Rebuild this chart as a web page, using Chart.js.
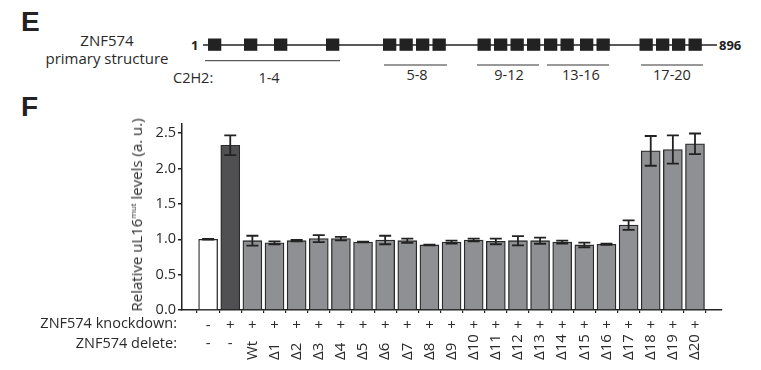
<!DOCTYPE html>
<html>
<head>
<meta charset="utf-8">
<script src="https://cdn.jsdelivr.net/npm/chart.js@4"></script>
<style>
  body { margin: 0; background: #fff; }
  #wrap { position: relative; width: 761px; height: 370px; overflow: hidden; font-family: 'Open Sans', sans-serif; color: #222; }
  #struct { position: absolute; left: 0; top: 0; }
  #chart { position: absolute; left: 0; top: 0; }
  .panel { position: absolute; font-family: 'Liberation Sans', Arial, sans-serif; font-weight: bold; font-size: 28px; color: #222; }
  .ytitle { position: absolute; left: 136px; top: 215px; transform: translate(-50%, -50%) rotate(-90deg); white-space: nowrap; font-size: 15px; color: #2a2a2a; }
  .ytitle sup { font-size: 8px; vertical-align: 6px; }
  .rowlbl { position: absolute; right: 584px; font-size: 14.5px; color: #2a2a2a; white-space: nowrap; }
</style>
</head>
<body>
<div id="wrap">
  <svg id="struct" width="761" height="100" xmlns="http://www.w3.org/2000/svg" font-family="Open Sans, sans-serif" fill="#222">
    <text x="107" y="46" font-size="15" text-anchor="middle" fill="#2a2a2a">ZNF574</text>
    <text x="107" y="64" font-size="15" text-anchor="middle" fill="#2a2a2a">primary structure</text>
    <text x="191" y="49.5" font-size="13" font-weight="bold">1</text>
    <line x1="203" y1="45" x2="717" y2="45" stroke="#222" stroke-width="1.5"/>
    <g id="boxes"></g>
    <text x="719" y="49.5" font-size="13" font-weight="bold">896</text>
    <line x1="205" y1="60.7" x2="340" y2="60.7" stroke="#333" stroke-width="1"/>
    <line x1="384" y1="65" x2="447" y2="65" stroke="#333" stroke-width="1"/>
    <line x1="477" y1="65" x2="539" y2="65" stroke="#333" stroke-width="1"/>
    <line x1="547" y1="65" x2="609" y2="65" stroke="#333" stroke-width="1"/>
    <line x1="641" y1="65" x2="703" y2="65" stroke="#333" stroke-width="1"/>
    <text x="173" y="83" font-size="14.5" fill="#2a2a2a">C2H2:</text>
    <text x="269" y="83" font-size="14.5" text-anchor="middle" fill="#2a2a2a">1-4</text>
    <text x="417" y="80" font-size="14.5" text-anchor="middle" fill="#2a2a2a">5-8</text>
    <text x="509" y="80" font-size="14.5" text-anchor="middle" fill="#2a2a2a">9-12</text>
    <text x="581" y="80" font-size="14.5" text-anchor="middle" fill="#2a2a2a">13-16</text>
    <text x="672" y="80" font-size="14.5" text-anchor="middle" fill="#2a2a2a">17-20</text>
  </svg>
  <div class="panel" style="left:21px; top:6px;">E</div>
  <div class="panel" style="left:21px; top:91px;">F</div>
  <canvas id="chart" width="761" height="370"></canvas>
  <div class="ytitle">Relative uL16<sup>mut</sup> levels (a. u.)</div>
  <div class="rowlbl" style="top:313px;">ZNF574 knockdown:</div>
  <div class="rowlbl" style="top:333px;">ZNF574 delete:</div>
</div>
<script>
// zinc finger boxes along the primary structure (px)
const domainLeft = [208, 244, 274, 326, 383, 399.5, 416, 432.5, 477.5, 494, 510.5, 527, 544, 560.5, 580, 596.5, 639.5, 656, 672, 688.5];

const knockdown = ['-', '+', '+', '+', '+', '+', '+', '+', '+', '+', '+', '+', '+', '+', '+', '+', '+', '+', '+', '+', '+', '+', '+'];
const deletion = ['-', '-', 'Wt', 'Δ1', 'Δ2', 'Δ3', 'Δ4', 'Δ5', 'Δ6', 'Δ7', 'Δ8', 'Δ9', 'Δ10',
  'Δ11', 'Δ12', 'Δ13', 'Δ14', 'Δ15', 'Δ16', 'Δ17', 'Δ18', 'Δ19', 'Δ20'];
const levels = [1.00, 2.33, 0.98, 0.95, 0.98, 1.01, 1.01, 0.96, 0.99, 0.98, 0.92, 0.96, 0.99,
  0.97, 0.98, 0.98, 0.96, 0.92, 0.93, 1.20, 2.25, 2.27, 2.35];
const sem = [0.005, 0.14, 0.07, 0.02, 0.01, 0.05, 0.025, 0.005, 0.06, 0.03, 0.005, 0.02, 0.02,
  0.04, 0.065, 0.043, 0.02, 0.033, 0.008, 0.066, 0.21, 0.2, 0.146];
const yTicks = [0, 0.5, 1.0, 1.5, 2.0, 2.5];

const g = document.getElementById('boxes');
domainLeft.forEach(x => {
  const r = document.createElementNS('http://www.w3.org/2000/svg', 'rect');
  r.setAttribute('x', x); r.setAttribute('y', 38.5);
  r.setAttribute('width', 13.3); r.setAttribute('height', 12.3);
  r.setAttribute('fill', '#222');
  g.appendChild(r);
});

const barColors = levels.map((v, i) => i === 0 ? '#ffffff' : i === 1 ? '#505052' : '#8f9093');

const errorBars = {
  id: 'errorBars',
  afterDatasetsDraw(chart) {
    const { ctx, scales: { x, y } } = chart;
    ctx.save();
    ctx.strokeStyle = '#222';
    ctx.lineWidth = 1.8;
    levels.forEach((v, i) => {
      const px = x.getPixelForValue(i);
      const hi = y.getPixelForValue(v + sem[i]);
      const lo = y.getPixelForValue(v - sem[i]);
      ctx.beginPath();
      ctx.moveTo(px, hi); ctx.lineTo(px, lo);
      ctx.moveTo(px - 6, hi); ctx.lineTo(px + 6, hi);
      ctx.moveTo(px - 6, lo); ctx.lineTo(px + 6, lo);
      ctx.stroke();
    });
    ctx.restore();
  }
};

const rowLabels = {
  id: 'rowLabels',
  afterDraw(chart) {
    const { ctx, scales: { x } } = chart;
    ctx.save();
    ctx.fillStyle = '#2a2a2a';
    ctx.font = '15px "Open Sans", sans-serif';
    ctx.textAlign = 'center';
    ctx.textBaseline = 'middle';
    knockdown.forEach((s, i) => {
      ctx.fillText(s, x.getPixelForValue(i), 326);
    });
    deletion.forEach((s, i) => {
      const px = x.getPixelForValue(i);
      if (s === '-') {
        ctx.fillText(s, px, 344);
      } else {
        ctx.save();
        ctx.translate(px, 360);
        ctx.rotate(-Math.PI / 2);
        ctx.textAlign = 'left';
        ctx.fillText(s, 0, 0);
        ctx.restore();
      }
    });
    ctx.restore();
  }
};

new Chart(document.getElementById('chart'), {
  type: 'bar',
  data: {
    datasets: [{
      data: levels.map((v, i) => ({ x: i, y: v })),
      backgroundColor: barColors,
      borderColor: '#2a2a2a',
      borderWidth: 1.3,
      barThickness: 19
    }]
  },
  options: {
    responsive: false,
    animation: false,
    devicePixelRatio: 1,
    layout: { padding: { top: 124, right: 39, left: 0, bottom: 0 } },
    plugins: { legend: { display: false }, tooltip: { enabled: false } },
    scales: {
      x: {
        type: 'linear',
        min: -0.65,
        max: 22.69,
        afterFit: s => { s.height = 60; },
        afterBuildTicks: s => { s.ticks = levels.map((v, i) => ({ value: i })); },
        ticks: { display: false },
        grid: { display: true, drawOnChartArea: false, drawTicks: true, tickLength: 3, color: '#222', lineWidth: 1.2 },
        border: { display: true, color: '#222', width: 1.5 }
      },
      y: {
        min: 0,
        max: 2.63,
        afterFit: s => { s.width = 182; },
        afterBuildTicks: s => { s.ticks = yTicks.map(v => ({ value: v })); },
        ticks: {
          color: '#2a2a2a',
          padding: 2,
          font: { family: 'Open Sans', size: 14.5 },
          callback: v => Number(v).toFixed(1)
        },
        grid: { display: true, drawOnChartArea: false, drawTicks: true, tickLength: 4, color: '#222', lineWidth: 1.5 },
        border: { display: true, color: '#222', width: 1.5 }
      }
    }
  },
  plugins: [errorBars, rowLabels]
});
</script>
</body>
</html>
